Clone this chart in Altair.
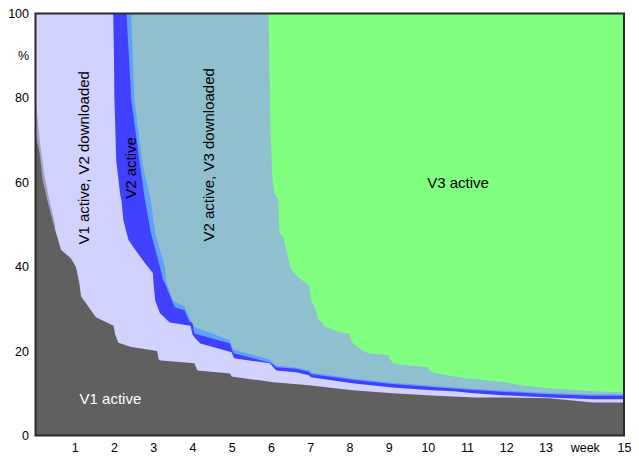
import altair as alt
import pandas as pd

# ---- data (weeks vs cumulative % boundaries) ----
gray_x = [0, 0.03, 0.1, 0.18, 0.3, 0.43, 0.65, 0.9, 1.03, 1.12, 1.16, 1.54, 1.99, 2.03, 2.11, 2.44, 3.1, 3.14, 3.2, 4.05, 4.1, 4.13, 4.96, 5.0, 6.06, 6.97, 8.08, 9.1, 10.1, 11.2, 12.0, 13.1, 14.2, 15]
gray_y = [72, 70, 67.2, 60.6, 55.8, 51, 44, 42, 40, 36, 33, 28, 26, 24, 22, 21, 20, 18, 17.8, 17.1, 16, 15.4, 14.7, 14, 12.6, 11.9, 10.7, 10, 9.5, 9, 9, 8.8, 7.8, 7.8]

fringe_x = [0, 0.04, 0.12, 0.22, 0.35, 0.5]
fringe_y = [80, 76, 69, 62, 56, 50]

lav_x = [0, 1.98, 2.0, 2.01, 2.06, 2.16, 2.19, 2.24, 2.37, 2.54, 2.79, 2.99, 3.02, 3.05, 3.17, 3.42, 3.95, 4.0, 4.05, 4.2, 5.0, 5.03, 5.06, 5.97, 6.05, 6.14, 6.64, 6.97, 7.02, 8.08, 9.09, 10.1, 10.67, 11.17, 12.0, 13.1, 14.2, 15]
lav_y = [100, 100, 90, 80, 65, 57, 55.8, 51, 46.3, 44, 40.9, 38.5, 35, 32, 29, 26.8, 26, 24, 23.3, 21.8, 19.7, 19, 18.3, 17.1, 16.3, 15.4, 15, 14.3, 13.8, 12.4, 11.4, 10.7, 10.5, 10, 9.5, 9, 8.6, 8.6]

db_x = [0, 2.32, 2.44, 2.67, 2.79, 2.94, 3.17, 3.25, 3.3, 3.55, 3.8, 3.92, 4.0, 4.05, 4.96, 5.02, 5.06, 5.97, 6.05, 6.14, 6.64, 6.97, 7.02, 8.08, 9.09, 10.1, 11.17, 12.0, 13.1, 14.2, 15]
db_y = [100, 100, 79.6, 63.7, 55.8, 48, 40, 36.8, 36, 30.4, 29.7, 27, 26.6, 24.2, 21.8, 20, 19.5, 17.3, 16.8, 16.2, 15.8, 15.1, 14.6, 13.2, 12.2, 11.5, 10.8, 10.3, 9.8, 9.4, 9.4]

lb_x = [0, 2.44, 2.52, 2.74, 2.94, 3.05, 3.3, 3.32, 3.5, 3.8, 3.95, 4.05, 4.96, 5.0, 5.06, 5.97, 6.05, 6.14, 6.64, 6.97, 7.02, 8.08, 9.09, 10.1, 11.17, 12.0, 13.1, 14.2, 15]
lb_y = [100, 100, 79.6, 63.7, 55.8, 48, 40, 36.8, 32, 30.5, 27.5, 25.7, 22.6, 21, 20.3, 18, 17.2, 16.5, 16.1, 15.4, 14.9, 13.5, 12.5, 11.8, 11.1, 10.6, 10.1, 9.7, 9.7]

sb_x = [0, 5.94, 5.99, 6.04, 6.09, 6.19, 6.22, 6.32, 6.44, 6.52, 6.72, 6.97, 7.02, 7.15, 7.2, 7.4, 7.73, 7.98, 8.08, 8.33, 8.48, 8.99, 9.09, 9.24, 9.99, 10.09, 10.67, 11.0, 11.18, 12.0, 12.36, 13.11, 14.2, 15]
sb_y = [100, 100, 71.7, 60.6, 57.5, 55.8, 48, 47, 42, 39.2, 37.3, 35.6, 32, 29.7, 27.8, 25.7, 24.5, 24.2, 21.9, 20.2, 19.5, 19, 17.3, 16.9, 16.2, 15, 14, 13.5, 13.4, 12.6, 11.9, 11.2, 10.5, 10.2]

green_x = [0, 15]
green_y = [100, 100]

label_text = ["V1 active, V2 downloaded", "V2 active", "V2 active, V3 downloaded", "V3 active", "V1 active"]
label_x = [1.23, 2.44, 4.43, 10.77, 1.91]
label_y = [65.8, 63.4, 66.5, 59.9, 8.6]
label_angle = [270, 270, 270, 0, 0]
label_color = ["black", "black", "black", "black", "white"]

W, H = 588.5, 422
FONT = "Liberation Sans"

xscale = alt.Scale(domain=[0, 15], nice=False, zero=False)
yscale = alt.Scale(domain=[0, 100], nice=False)

x_axis = alt.Axis(values=list(range(1, 16)), labelExpr="datum.value == 14 ? 'week' : datum.label",
                  ticks=False, tickSize=0, grid=False, domain=False, labelPadding=6, labelFontSize=12.5,
                  labelFont=FONT, labelColor="black", labelFlush=False, title=None, labelOverlap=False)
y_axis = alt.Axis(values=[0, 20, 40, 60, 80, 90, 100], labelExpr="datum.value == 90 ? '%' : datum.label",
                  ticks=False, tickSize=0, grid=False, domain=False, labelPadding=7, labelFontSize=12.5,
                  labelFont=FONT, labelColor="black", title=None, labelOverlap=False)


def area(xs, ys, color):
    df = pd.DataFrame({"x": xs, "y": ys})
    return alt.Chart(df).mark_area(color=color, interpolate="linear", opacity=1).encode(
        x=alt.X("x:Q", scale=xscale, axis=x_axis),
        y=alt.Y("y:Q", scale=yscale, axis=y_axis),
    )


layers = [
    area(green_x, green_y, "#80ff80"),
    area(sb_x, sb_y, "#90bfd0"),
    area(lb_x, lb_y, "#60a0ff"),
    area(db_x, db_y, "#4040ff"),
    area(lav_x, lav_y, "#d2d2ff"),
    area(fringe_x, fringe_y, "#a0a0c4"),
    area(gray_x, gray_y, "#606060"),
]

labels_df = pd.DataFrame({"t": label_text, "x": label_x, "y": label_y,
                          "a": label_angle, "c": label_color})
text = alt.Chart(labels_df).mark_text(font=FONT, fontSize=15, align="center", baseline="middle").encode(
    x=alt.X("x:Q", scale=xscale, axis=x_axis),
    y=alt.Y("y:Q", scale=yscale, axis=y_axis),
    text="t:N",
    angle=alt.Angle("a:Q", scale=None),
    color=alt.Color("c:N", scale=None),
)

frame = alt.Chart(pd.DataFrame({"d": [0]})).mark_rect(fill=None, stroke="#2a2a2a", strokeWidth=2).encode(
    x=alt.value(0), x2=alt.value(W), y=alt.value(0), y2=alt.value(H)
)

chart = alt.layer(*layers, text, frame).properties(
    width=W, height=H,
    autosize=alt.AutoSizeParams(type="none"),
    padding={"left": 27.5, "top": 5.5, "right": 7, "bottom": 19.5},
).configure_view(stroke=None)

chart.save("out.html", embed_options={"renderer": "svg", "actions": False})
